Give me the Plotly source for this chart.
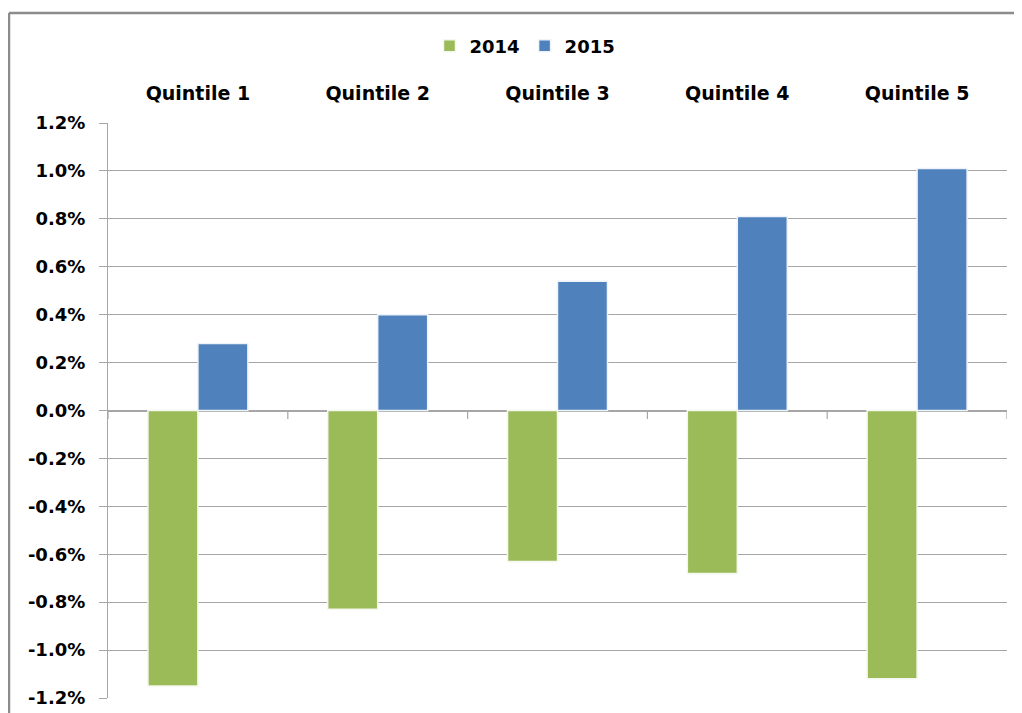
import plotly.graph_objects as go

categories = ["Quintile 1", "Quintile 2", "Quintile 3", "Quintile 4", "Quintile 5"]
values_2014 = [-1.15, -0.83, -0.63, -0.68, -1.12]
values_2015 = [0.28, 0.40, 0.54, 0.81, 1.01]
y_ticks = [-1.2, -1.0, -0.8, -0.6, -0.4, -0.2, 0.0, 0.2, 0.4, 0.6, 0.8, 1.0, 1.2]
y_ticktext = [f"{v:.1f}%" for v in y_ticks]

GREEN = "#9BBB59"
BLUE = "#4F81BD"
GRID = "#A6A6A6"
FONT = "DejaVu Sans"

# page body has an 8px margin; margins below compensate for it
L, R, T, B = 100, 23, 115, 23
W, H = 1022, 713
PW, PH = W - L - R, H - T - B

fig = go.Figure()
fig.add_trace(go.Bar(name="2014", x=categories, y=values_2014,
                     marker=dict(color=GREEN, line=dict(color="#F4F7EE", width=1.5))))
fig.add_trace(go.Bar(name="2015", x=categories, y=values_2015,
                     marker=dict(color=BLUE, line=dict(color="#EEF3FA", width=1.5))))

# category boundary tick marks on the zero axis
for i in range(len(categories) + 1):
    fig.add_shape(type="line", xref="x", yref="y", x0=i - 0.5, x1=i - 0.5, y0=0, y1=-0.035,
                  line=dict(color=GRID, width=1.2), layer="below")

# outer chart frame (top and left edges only are visible)
fx0 = (1 - L) / PW
fy1 = (H - B - 5) / PH
fig.add_shape(type="line", xref="paper", yref="paper", x0=fx0, x1=1.2, y0=fy1, y1=fy1,
              line=dict(color="#8C8C8C", width=2.5), layer="below")
fig.add_shape(type="line", xref="paper", yref="paper", x0=fx0, x1=fx0, y0=-0.2, y1=fy1,
              line=dict(color="#8C8C8C", width=2.5), layer="below")

fig.update_layout(
    width=W, height=H,
    margin=dict(l=L, r=R, t=T, b=B),
    paper_bgcolor="white", plot_bgcolor="white",
    barmode="group", bargap=0.444, bargroupgap=0,
    font=dict(family=FONT, color="#000000", weight="bold"),
    showlegend=True,
    legend=dict(orientation="h", xref="container", yref="container",
                x=517 / W, y=1 - 38 / H, xanchor="center", yanchor="middle",
                font=dict(family=FONT, size=18, color="#000", weight="bold"),
                itemwidth=30, tracegroupgap=0, bgcolor="rgba(0,0,0,0)"),
    xaxis=dict(side="top", showgrid=False, showline=False, zeroline=False,
               ticks="outside", ticklen=14, tickcolor="rgba(0,0,0,0)",
               tickfont=dict(family=FONT, size=19, color="#000", weight="bold"),
               range=[-0.5, 4.5]),
    yaxis=dict(range=[-1.2, 1.2], tickvals=y_ticks, ticktext=y_ticktext,
               showgrid=True, gridcolor=GRID, gridwidth=1.2,
               zeroline=True, zerolinecolor=GRID, zerolinewidth=1.5,
               showline=True, linecolor=GRID, linewidth=1.2,
               ticks="outside", ticklen=8, tickcolor=GRID, tickwidth=1.2,
               ticklabelstandoff=10,
               tickfont=dict(family=FONT, size=18, color="#000", weight="bold")),
)

fig.write_html("out.html",
               post_script="document.documentElement.style.overflow='hidden';document.body.style.overflow='hidden';")
